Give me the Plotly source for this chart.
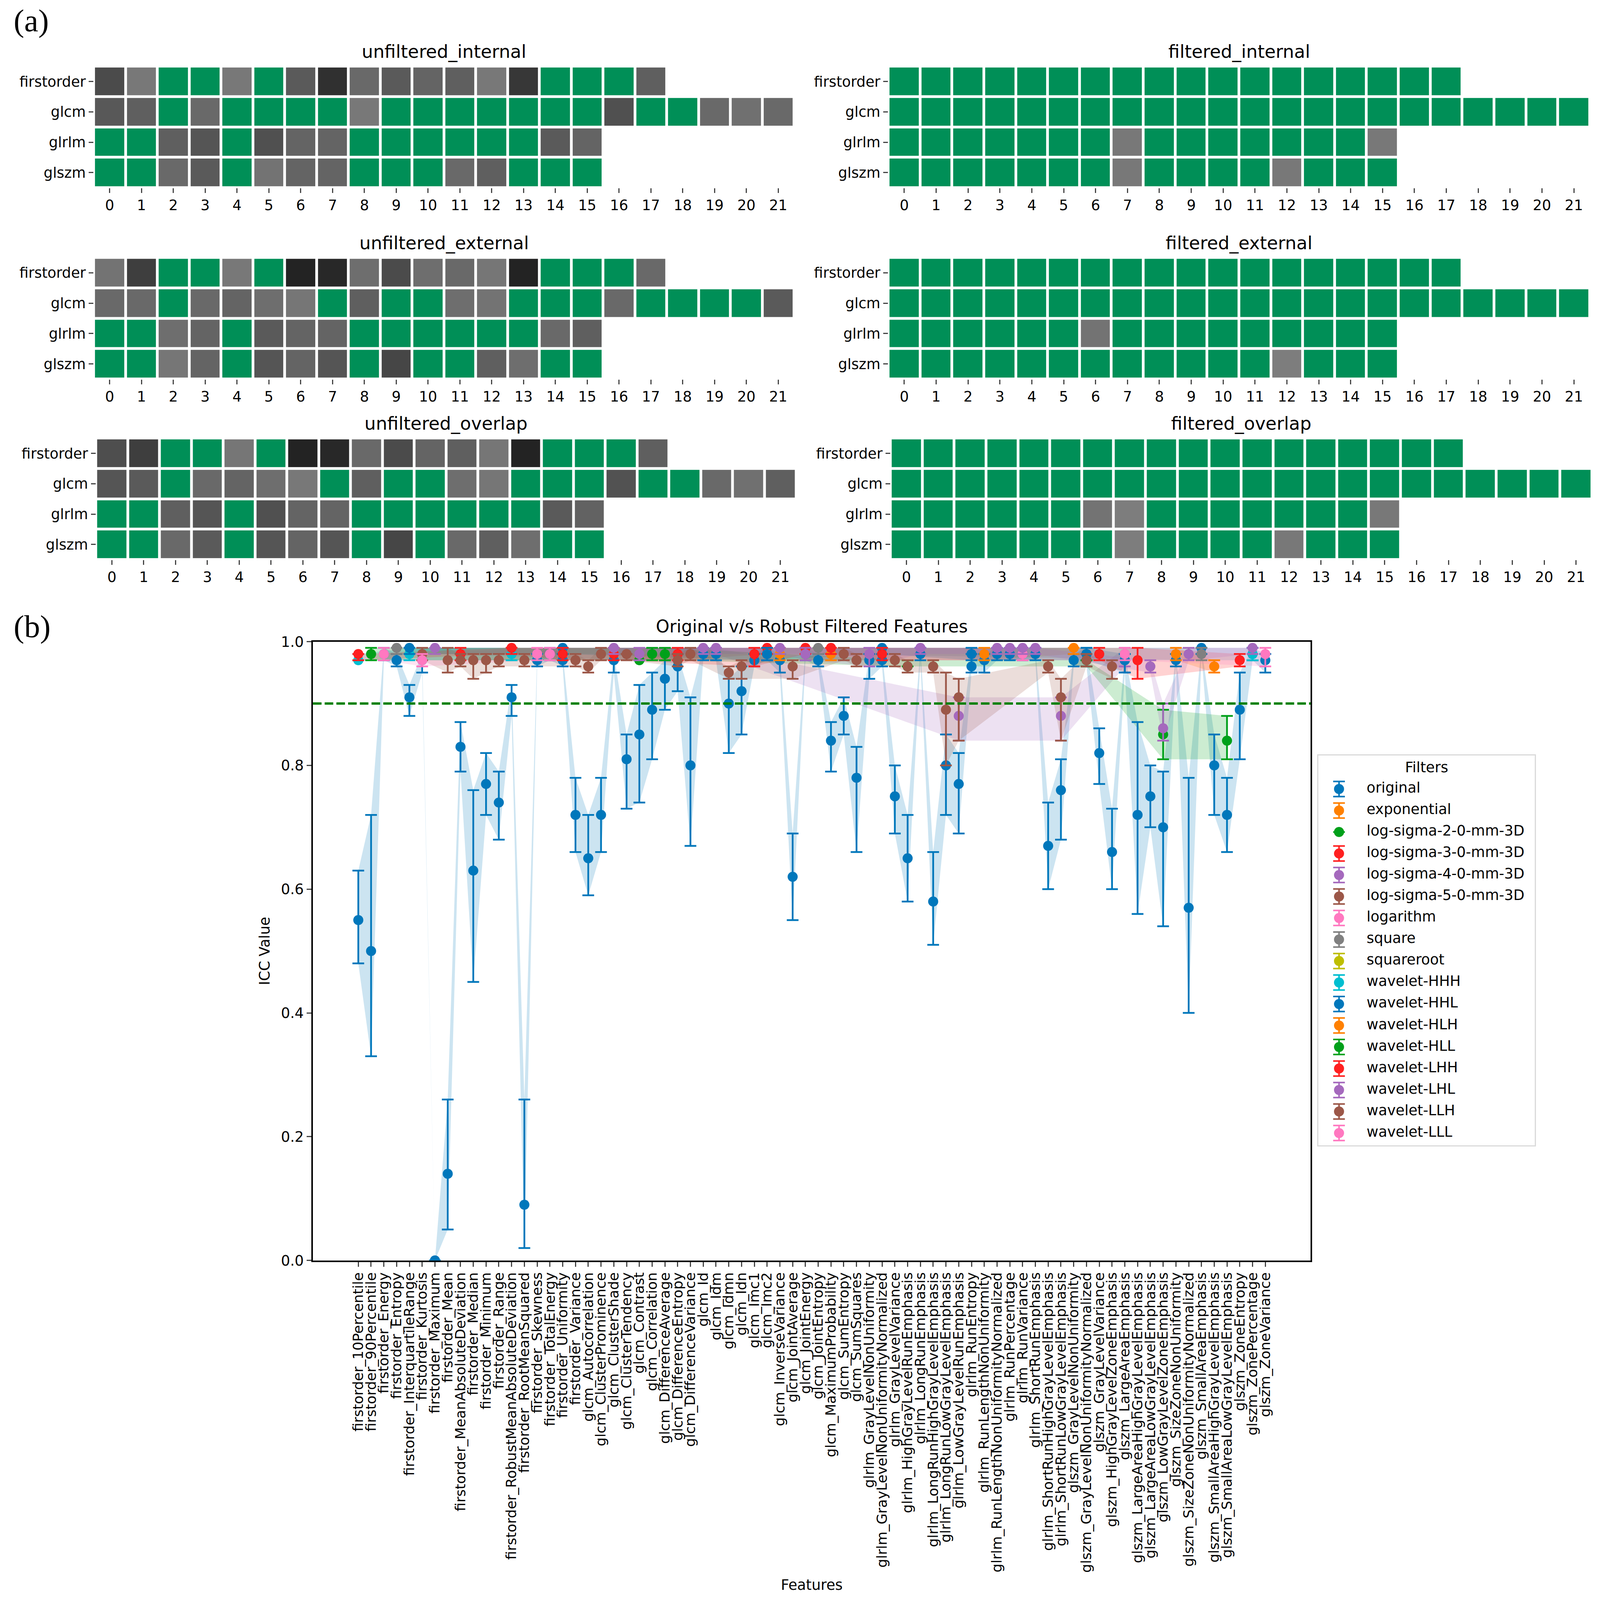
import plotly.graph_objects as go

# reference picture size (all layout numbers below are in its pixels) and the size of the page that is photographed
RW, RH = 4402, 4608
W, H = 4096, 4096
SX, SY = W / RW, H / RH
S = 0.92
G = 255

# ---------- panel (a): grey level per cell, G = robust (green) ----------
ROWS = ["firstorder", "glcm", "glrlm", "glszm"]
COLS = list(range(22))

ui_first = [75, 120, G, G, 120, G, 90, 48, 105, 90, 100, 95, 120, 55, G, G, G, 95]
ui_glcm = [88, 95, G, 105, G, G, G, G, 120, G, G, G, G, G, G, G, 80, G, G, 105, 112, 105]
ui_glrlm = [G, G, 95, 85, G, 80, 100, 100, G, G, G, G, G, G, 90, 100]
ui_glszm = [G, G, 105, 90, G, 115, 100, 100, G, G, G, 105, 95, G, G, G]

ue_first = [115, 62, G, G, 120, G, 35, 40, 110, 75, 110, 105, 118, 35, G, G, G, 105]
ue_glcm = [105, 105, G, 105, 100, 110, 118, G, 95, G, G, 110, 115, G, G, G, 105, G, G, G, G, 90]
ue_glrlm = [G, G, 110, 100, G, 90, 100, 100, G, G, G, G, G, G, 105, 95]
ue_glszm = [G, G, 118, 100, G, 85, 100, 85, G, 70, G, G, 95, 110, G, G]

uo_first = [78, 62, G, G, 118, G, 35, 40, 105, 75, 100, 95, 118, 35, G, G, G, 95]
uo_glcm = [85, 90, G, 105, 100, 110, 120, G, 95, G, G, 110, 118, G, G, G, 82, G, G, 105, 112, 95]
uo_glrlm = [G, G, 95, 85, G, 80, 100, 100, G, G, G, G, G, G, 90, 98]
uo_glszm = [G, G, 105, 90, G, 85, 100, 85, G, 70, G, 105, 95, 110, G, G]

fi_first = [G, G, G, G, G, G, G, G, G, G, G, G, G, G, G, G, G, G]
fi_glcm = [G, G, G, G, G, G, G, G, G, G, G, G, G, G, G, G, G, G, G, G, G, G]
fi_glrlm = [G, G, G, G, G, G, G, 120, G, G, G, G, G, G, G, 120]
fi_glszm = [G, G, G, G, G, G, G, 120, G, G, G, G, 120, G, G, G]

fe_first = [G, G, G, G, G, G, G, G, G, G, G, G, G, G, G, G, G, G]
fe_glcm = [G, G, G, G, G, G, G, G, G, G, G, G, G, G, G, G, G, G, G, G, G, G]
fe_glrlm = [G, G, G, G, G, G, 115, G, G, G, G, G, G, G, G, G]
fe_glszm = [G, G, G, G, G, G, G, G, G, G, G, G, 125, G, G, G]

fo_first = [G, G, G, G, G, G, G, G, G, G, G, G, G, G, G, G, G, G]
fo_glcm = [G, G, G, G, G, G, G, G, G, G, G, G, G, G, G, G, G, G, G, G, G, G]
fo_glrlm = [G, G, G, G, G, G, 115, 125, G, G, G, G, G, G, G, 120]
fo_glszm = [G, G, G, G, G, G, G, 125, G, G, G, G, 120, G, G, G]

# ---------- panel (b) ----------
FEATURES = [
    "firstorder_10Percentile", "firstorder_90Percentile", "firstorder_Energy", "firstorder_Entropy",
    "firstorder_InterquartileRange", "firstorder_Kurtosis", "firstorder_Maximum", "firstorder_Mean",
    "firstorder_MeanAbsoluteDeviation", "firstorder_Median", "firstorder_Minimum", "firstorder_Range",
    "firstorder_RobustMeanAbsoluteDeviation", "firstorder_RootMeanSquared", "firstorder_Skewness",
    "firstorder_TotalEnergy", "firstorder_Uniformity", "firstorder_Variance",
    "glcm_Autocorrelation", "glcm_ClusterProminence", "glcm_ClusterShade", "glcm_ClusterTendency",
    "glcm_Contrast", "glcm_Correlation", "glcm_DifferenceAverage", "glcm_DifferenceEntropy",
    "glcm_DifferenceVariance", "glcm_Id", "glcm_Idm", "glcm_Idmn", "glcm_Idn", "glcm_Imc1", "glcm_Imc2",
    "glcm_InverseVariance", "glcm_JointAverage", "glcm_JointEnergy", "glcm_JointEntropy",
    "glcm_MaximumProbability", "glcm_SumEntropy", "glcm_SumSquares",
    "glrlm_GrayLevelNonUniformity", "glrlm_GrayLevelNonUniformityNormalized", "glrlm_GrayLevelVariance",
    "glrlm_HighGrayLevelRunEmphasis", "glrlm_LongRunEmphasis", "glrlm_LongRunHighGrayLevelEmphasis",
    "glrlm_LongRunLowGrayLevelEmphasis", "glrlm_LowGrayLevelRunEmphasis", "glrlm_RunEntropy",
    "glrlm_RunLengthNonUniformity", "glrlm_RunLengthNonUniformityNormalized", "glrlm_RunPercentage",
    "glrlm_RunVariance", "glrlm_ShortRunEmphasis", "glrlm_ShortRunHighGrayLevelEmphasis",
    "glrlm_ShortRunLowGrayLevelEmphasis",
    "glszm_GrayLevelNonUniformity", "glszm_GrayLevelNonUniformityNormalized", "glszm_GrayLevelVariance",
    "glszm_HighGrayLevelZoneEmphasis", "glszm_LargeAreaEmphasis", "glszm_LargeAreaHighGrayLevelEmphasis",
    "glszm_LargeAreaLowGrayLevelEmphasis", "glszm_LowGrayLevelZoneEmphasis", "glszm_SizeZoneNonUniformity",
    "glszm_SizeZoneNonUniformityNormalized", "glszm_SmallAreaEmphasis", "glszm_SmallAreaHighGrayLevelEmphasis",
    "glszm_SmallAreaLowGrayLevelEmphasis", "glszm_ZoneEntropy", "glszm_ZonePercentage", "glszm_ZoneVariance",
]

original_idx = list(range(72))
original_icc = [.55, .50, .98, .97, .91, .97, .00, .14, .83, .63, .77, .74, .91, .09, .97, .98, .97, .72,
                .65, .72, .97, .81, .85, .89, .94, .96, .80, .98, .98, .90, .92, .97, .98, .97, .62, .98,
                .97, .84, .88, .78, .97, .97, .75, .65, .98, .58, .80, .77, .96, .97, .98, .98, .98, .98,
                .67, .76, .97, .98, .82, .66, .97, .72, .75, .70, .97, .57, .99, .80, .72, .89, .98, .97]
original_lo = [.48, .33, .97, .96, .88, .95, .00, .05, .79, .45, .72, .68, .88, .02, .96, .97, .96, .66,
               .59, .66, .95, .73, .74, .81, .89, .92, .67, .97, .97, .82, .85, .96, .97, .95, .55, .97,
               .96, .79, .85, .66, .94, .96, .69, .58, .97, .51, .72, .69, .95, .95, .97, .97, .97, .97,
               .60, .68, .96, .96, .77, .60, .95, .56, .70, .54, .96, .40, .98, .72, .66, .81, .97, .95]
original_hi = [.63, .72, .99, .98, .93, .98, .00, .26, .87, .76, .82, .79, .93, .26, .98, .99, .98, .78,
               .72, .78, .98, .85, .93, .95, .97, .98, .91, .99, .99, .94, .96, .98, .99, .98, .69, .99,
               .98, .87, .91, .83, .98, .98, .80, .72, .99, .66, .85, .82, .98, .98, .99, .99, .99, .99,
               .74, .81, .98, .99, .86, .73, .98, .87, .80, .79, .98, .78, .99, .85, .78, .95, .99, .98]

exp_idx = [33, 37, 49, 56]
exp_icc = [.98, .98, .98, .99]
exp_lo = [.97, .97, .97, .98]
exp_hi = [.99, .99, .99, .99]

log2_idx = [22]
log2_icc = [.97]
log2_lo = [.97]
log2_hi = [.97]

log3_idx = [8, 25, 32]
log3_icc = [.98, .98, .99]
log3_lo = [.97, .97, .98]
log3_hi = [.99, .99, .99]

log4_idx = [6, 22, 27, 28, 47, 55, 60]
log4_icc = [.99, .98, .99, .99, .88, .88, .98]
log4_lo = [.98, .97, .98, .98, .84, .84, .96]
log4_hi = [.99, .99, .99, .99, .91, .91, .99]

log5_idx = [5, 7, 8, 9, 10, 11, 13, 17, 18, 19]
log5_icc = [.98, .97, .97, .97, .97, .97, .97, .97, .96, .98]
log5_lo = [.97, .95, .96, .94, .95, .96, .96, .96, .95, .97]
log5_hi = [.99, .99, .98, .98, .98, .98, .98, .98, .97, .99]

logarithm_idx = [2, 5, 14, 15, 52]
logarithm_icc = [.98, .97, .98, .98, .98]
logarithm_lo = [.97, .96, .97, .97, .97]
logarithm_hi = [.99, .98, .99, .99, .99]

square_idx = [3, 36, 66]
square_icc = [.99, .99, .98]
square_lo = [.98, .98, .97]
square_hi = [.99, .99, .99]

sqrt_idx = []
sqrt_icc = []
sqrt_lo = []
sqrt_hi = []

hhh_idx = [0, 4, 12, 70]
hhh_icc = [.97, .98, .98, .98]
hhh_lo = [.97, .97, .97, .97]
hhh_hi = [.98, .99, .99, .99]

hhl_idx = [4, 16, 32, 41, 48, 57, 60]
hhl_icc = [.99, .99, .98, .99, .98, .98, .97]
hhl_lo = [.98, .98, .97, .98, .97, .97, .95]
hhl_hi = [.99, .99, .99, .99, .99, .99, .98]

hlh_idx = [64, 67]
hlh_icc = [.98, .96]
hlh_lo = [.97, .95]
hlh_hi = [.99, .97]

hll_idx = [1, 23, 24, 43, 57, 63, 68]
hll_icc = [.98, .98, .98, .96, .97, .85, .84]
hll_lo = [.97, .97, .97, .96, .96, .81, .81]
hll_hi = [.99, .99, .99, .97, .97, .89, .88]

lhh_idx = [0, 12, 16, 20, 31, 35, 37, 41, 58, 61, 69]
lhh_icc = [.98, .99, .98, .98, .98, .99, .99, .98, .98, .97, .97]
lhh_lo = [.97, .98, .97, .97, .96, .98, .98, .97, .97, .94, .96]
lhh_hi = [.98, .99, .99, .99, .99, .99, .99, .99, .99, .99, .98]

lhl_idx = [20, 33, 35, 40, 44, 50, 51, 52, 53, 62, 63, 65, 70]
lhl_icc = [.99, .99, .98, .98, .99, .99, .99, .99, .99, .96, .86, .98, .99]
lhl_lo = [.98, .98, .97, .96, .98, .98, .98, .98, .98, .95, .84, .97, .98]
lhl_hi = [.99, .99, .99, .99, .99, .99, .99, .99, .99, .97, .90, .99, .99]

llh_idx = [21, 25, 26, 29, 30, 34, 38, 39, 42, 43, 45, 46, 47, 54, 55, 57, 59]
llh_icc = [.98, .97, .98, .95, .96, .96, .98, .97, .97, .96, .96, .89, .91, .96, .91, .97, .96]
llh_lo = [.97, .96, .97, .94, .94, .94, .97, .96, .96, .95, .95, .80, .84, .95, .84, .96, .94]
llh_hi = [.98, .98, .99, .96, .97, .97, .99, .98, .98, .97, .97, .95, .94, .97, .94, .98, .97]

lll_idx = [60, 71]
lll_icc = [.98, .98]
lll_lo = [.97, .96]
lll_hi = [.99, .99]

FILTERS = ["original", "exponential", "log-sigma-2-0-mm-3D", "log-sigma-3-0-mm-3D", "log-sigma-4-0-mm-3D",
           "log-sigma-5-0-mm-3D", "logarithm", "square", "squareroot", "wavelet-HHH", "wavelet-HHL",
           "wavelet-HLH", "wavelet-HLL", "wavelet-LHH", "wavelet-LHL", "wavelet-LLH", "wavelet-LLL"]
COLORS = ["0,119,187", "255,128,0", "0,160,26", "255,32,32", "165,105,189", "156,87,72", "255,120,192",
          "128,128,128", "190,190,0", "0,190,208", "0,119,187", "255,128,0", "0,160,26", "255,32,32",
          "165,105,189", "156,87,72", "255,120,192"]
SERIES = [
    (original_idx, original_icc, original_lo, original_hi), (exp_idx, exp_icc, exp_lo, exp_hi),
    (log2_idx, log2_icc, log2_lo, log2_hi), (log3_idx, log3_icc, log3_lo, log3_hi),
    (log4_idx, log4_icc, log4_lo, log4_hi), (log5_idx, log5_icc, log5_lo, log5_hi),
    (logarithm_idx, logarithm_icc, logarithm_lo, logarithm_hi), (square_idx, square_icc, square_lo, square_hi),
    (sqrt_idx, sqrt_icc, sqrt_lo, sqrt_hi), (hhh_idx, hhh_icc, hhh_lo, hhh_hi), (hhl_idx, hhl_icc, hhl_lo, hhl_hi),
    (hlh_idx, hlh_icc, hlh_lo, hlh_hi), (hll_idx, hll_icc, hll_lo, hll_hi), (lhh_idx, lhh_icc, lhh_lo, lhh_hi),
    (lhl_idx, lhl_icc, lhl_lo, lhl_hi), (llh_idx, llh_icc, llh_lo, llh_hi), (lll_idx, lll_icc, lll_lo, lll_hi),
]
THRESHOLD = 0.9

# ---------- layout helpers ----------
FONT = "DejaVu Sans"
TICK = 40 * S
TICKLEN = 12
GREEN = "rgb(0,143,87)"
black = dict(family=FONT, size=TICK, color="black")


def dx(a, b):
    return [a / RW, b / RW]


def dy(top, bottom):
    return [1 - bottom / RH, 1 - top / RH]


fig = go.Figure()
layout = {}
annots = []

PANELS = [
    ("unfiltered_internal", (ui_first, ui_glcm, ui_glrlm, ui_glszm), 258, 2185, 191, 541),
    ("unfiltered_external", (ue_first, ue_glcm, ue_glrlm, ue_glszm), 258, 2185, 742, 1092),
    ("unfiltered_overlap", (uo_first, uo_glcm, uo_glrlm, uo_glszm), 264, 2191, 1262, 1612),
    ("filtered_internal", (fi_first, fi_glcm, fi_glrlm, fi_glszm), 2444, 4374, 191, 541),
    ("filtered_external", (fe_first, fe_glcm, fe_glrlm, fe_glszm), 2444, 4374, 742, 1092),
    ("filtered_overlap", (fo_first, fo_glcm, fo_glrlm, fo_glszm), 2450, 4380, 1262, 1612),
]
for k, (title, rows, x0, x1, y0, y1) in enumerate(PANELS, start=2):
    z = [list(r) + [None] * (22 - len(r)) for r in rows]
    fig.add_trace(go.Heatmap(
        z=z, x=COLS, y=ROWS, xaxis=f"x{k}", yaxis=f"y{k}", zmin=0, zmax=255, xgap=7, ygap=7, showscale=False,
        colorscale=[[0, "rgb(0,0,0)"], [0.99, "rgb(252,252,252)"], [0.99, GREEN], [1, GREEN]],
    ))
    layout[f"xaxis{k}"] = dict(domain=dx(x0, x1), anchor=f"y{k}", range=[-0.5, 21.5], tickmode="array",
                               tickvals=COLS, ticks="outside", ticklen=TICKLEN, tickwidth=3, showgrid=False,
                               zeroline=False, showline=False, tickangle=0, automargin=False, tickfont=black)
    layout[f"yaxis{k}"] = dict(domain=dy(y0, y1), anchor=f"x{k}", autorange="reversed", type="category",
                               ticks="outside", ticklen=TICKLEN, tickwidth=3, showgrid=False, zeroline=False,
                               showline=False, automargin=False, tickfont=black)
    annots.append(dict(text=title, xref=f"x{k} domain", yref=f"y{k} domain", x=0.5, y=1, yshift=42 * SY, yanchor="middle",
                       showarrow=False, font=dict(family=FONT, size=50 * S, color="black")))

# panel (b): bands first, marks on top
M = 8
for (idx, icc, lo, hi), c in zip(SERIES, COLORS):
    if len(idx) > 1:
        xs = [FEATURES[i] for i in idx]
        fig.add_trace(go.Scatter(x=xs + xs[::-1], y=list(hi) + list(lo)[::-1], mode="lines", fill="toself",
                                 line=dict(width=0), fillcolor=f"rgba({c},0.2)", xaxis=f"x{M}", yaxis=f"y{M}",
                                 showlegend=False, hoverinfo="skip"))
for name, (idx, icc, lo, hi), c in zip(FILTERS, SERIES, COLORS):
    if not idx:
        continue
    fig.add_trace(go.Scatter(
        x=[FEATURES[i] for i in idx], y=icc, mode="markers", name=name, xaxis=f"x{M}", yaxis=f"y{M}", showlegend=False,
        marker=dict(size=28 * S, color=f"rgb({c})"),
        error_y=dict(type="data", symmetric=False, array=[h - v for h, v in zip(hi, icc)],
                     arrayminus=[v - l for v, l in zip(icc, lo)], width=15, thickness=4.5, color=f"rgb({c})"),
    ))
layout[f"xaxis{M}"] = dict(domain=dx(861, 3606), anchor=f"y{M}", type="category", categoryorder="array",
                           categoryarray=FEATURES, range=[-3.55, 74.55], tickmode="array", tickvals=FEATURES,
                           ticktext=FEATURES, tickangle=-90, ticks="outside", ticklen=TICKLEN, tickwidth=3,
                           showline=True, mirror=True, linecolor="black", linewidth=4, showgrid=False, zeroline=False,
                           automargin=False, tickfont=dict(family=FONT, size=36, color="black"))
layout[f"yaxis{M}"] = dict(domain=dy(1848, 3630), anchor=f"x{M}", range=[0, 1], tickmode="array",
                           tickvals=[0, .2, .4, .6, .8, 1], tickformat=".1f", ticks="outside", ticklen=TICKLEN, tickwidth=3,
                           showline=True, mirror=True, linecolor="black", linewidth=4, showgrid=False, zeroline=False,
                           automargin=False, tickfont=black)
annots.append(dict(text="Original v/s Robust Filtered Features", xref=f"x{M} domain", yref=f"y{M} domain", x=0.5, y=1,
                   yshift=44 * SY, yanchor="middle", showarrow=False, font=dict(family=FONT, size=48 * S, color="black")))
annots.append(dict(text="Features", xref=f"x{M} domain", yref="paper", x=0.5, y=1 - 4565 / RH, yanchor="middle",
                   showarrow=False, font=black))
annots.append(dict(text="ICC Value", xref="paper", yref=f"y{M} domain", x=728 / RW, y=0.5, xanchor="center", textangle=-90,
                   showarrow=False, font=black))
shapes = [dict(type="line", xref=f"x{M} domain", yref=f"y{M}", x0=0, x1=1, y0=THRESHOLD, y1=THRESHOLD,
               line=dict(color="rgb(0,128,0)", width=6, dash="22px,8px"), layer="above")]

# legend panel: one error-bar glyph per filter, with its name
L = 9
for k, (name, c) in enumerate(zip(FILTERS, COLORS)):
    has_err = name != "log-sigma-2-0-mm-3D"
    fig.add_trace(go.Scatter(
        x=[0], y=[k], mode="markers", name=name, xaxis=f"x{L}", yaxis=f"y{L}", showlegend=False,
        marker=dict(size=28 * S, color=f"rgb({c})"),
        error_y=dict(type="data", array=[0.35 if has_err else 0.0], width=15, thickness=4, color=f"rgb({c})"),
    ))
fig.add_trace(go.Scatter(x=[76] * len(FILTERS), y=list(range(len(FILTERS))), mode="text", text=FILTERS,
                         textposition="middle right", textfont=black,
                         xaxis=f"x{L}", yaxis=f"y{L}", showlegend=False, cliponaxis=False))
layout[f"xaxis{L}"] = dict(domain=dx(3627, 4223), anchor=f"y{L}", range=[-57, 539], showticklabels=False, ticks="",
                           showgrid=False, zeroline=False, showline=True, mirror=True, linecolor="#DADADA", linewidth=3,
                           automargin=False)
layout[f"yaxis{L}"] = dict(domain=dy(2176, 3299), anchor=f"x{L}", range=[16.58, -1.556], showticklabels=False, ticks="",
                           showgrid=False, zeroline=False, showline=True, mirror=True, linecolor="#DADADA", linewidth=3,
                           automargin=False)
annots.append(dict(text="Filters", xref=f"x{L} domain", yref=f"y{L}", x=0.5, y=-1, yanchor="middle", showarrow=False,
                   font=black))

# panel letters
annots.append(dict(text="(a)", xref="paper", yref="paper", x=35 / RW, y=1 - 60 / RH, xanchor="left", yanchor="middle",
                   showarrow=False, font=dict(family="Liberation Serif", size=88 * S, color="black")))
annots.append(dict(text="(b)", xref="paper", yref="paper", x=35 / RW, y=1 - 1805 / RH, xanchor="left", yanchor="middle",
                   showarrow=False, font=dict(family="Liberation Serif", size=88 * S, color="black")))

fig.update_layout(width=W, height=H, margin=dict(l=0, r=0, t=0, b=0), paper_bgcolor="white", plot_bgcolor="white",
                  showlegend=False, annotations=annots, shapes=shapes, font=dict(family=FONT), **layout)
fig.write_html("out.html", config={"displayModeBar": False}, post_script="document.body.style.margin='0';")
